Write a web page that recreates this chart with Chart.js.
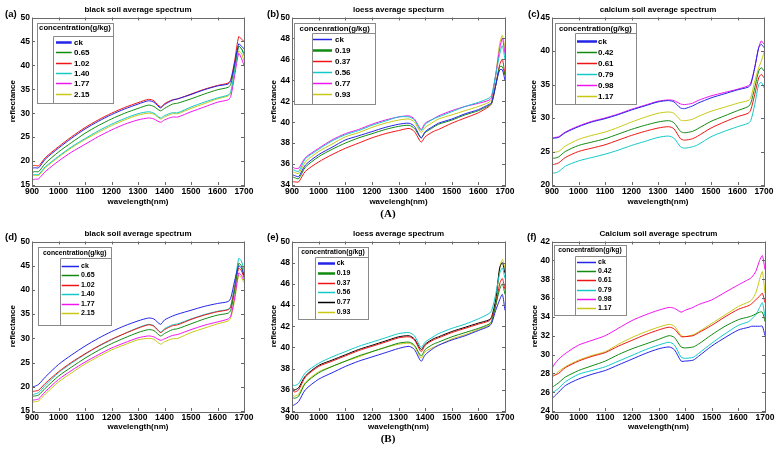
<!DOCTYPE html>
<html><head><meta charset="utf-8">
<script src="https://cdn.jsdelivr.net/npm/chart.js@4/dist/chart.umd.min.js"></script>
<style>
body{margin:0;width:778px;height:453px;background:#fff;position:relative;overflow:hidden}
canvas{position:absolute}
.cap{position:absolute;font:bold 11px "Liberation Serif","DejaVu Serif",serif;transform:translate(-50%,-50%);color:#000}
</style></head><body>
<canvas id="ca" width="259" height="225" style="left:0;top:0"></canvas>
<canvas id="cb" width="260" height="225" style="left:259px;top:0"></canvas>
<canvas id="cc" width="259" height="225" style="left:519px;top:0"></canvas>
<canvas id="cd" width="259" height="228" style="left:0;top:225px"></canvas>
<canvas id="ce" width="260" height="228" style="left:259px;top:225px"></canvas>
<canvas id="cf" width="259" height="228" style="left:519px;top:225px"></canvas>
<div class="cap" style="left:388px;top:213px">(A)</div>
<div class="cap" style="left:388px;top:438px">(B)</div>
<script>
// ---------- data ----------
const wavelengths = [900,910,925,950,1000,1050,1100,1150,1200,1250,1300,1340,1360,1385,1400,1430,1450,1500,1550,1600,1640,1650,1665,1680,1690,1700];
const xTickValues = [900,1000,1100,1200,1300,1400,1500,1600,1700];
const yTicksBlack = [15,20,25,30,35,40,45,50];
const yTicksLoess = [34,36,38,40,42,44,46,48,50];
const yTicksCalcA = [20,25,30,35,40,45];
const yTicksCalcB = [24,26,28,30,32,34,36,38,40,42];

const labelsBlack = ['ck','0.65','1.02','1.40','1.77','2.15'];
const labelsLoess = ['ck','0.19','0.37','0.56','0.77','0.93'];
const labelsCalc  = ['ck','0.42','0.61','0.79','0.98','1.17'];

// (a) black soil (A)
const a_ck  = [18.5,18.6,18.6,20.4,22.7,24.8,26.7,28.3,29.7,30.9,31.9,32.6,32.3,31.1,31.8,32.7,33,33.9,34.9,35.7,36.1,36.8,40.5,44.5,44,43.5];
const a_065 = [17.6,17.8,17.8,19.5,21.9,23.9,25.8,27.4,28.8,30,31,31.7,31.4,30.5,31,31.9,32.1,33,34,34.9,35.4,36,40,44,43.5,42.5];
const a_102 = [19,19.1,19,20.7,23,25.1,27,28.6,30,31.2,32.2,32.9,32.6,31.3,32,32.8,33,34,35,35.8,36.3,37,41,46,45.5,45];
const a_140 = [17,17.2,17.2,18.8,21,23,24.7,26.3,27.7,28.9,29.9,30.3,30,29,29.5,30.1,30.1,31.3,32.3,33.2,33.8,34.5,39,44,43.5,42];
const a_177 = [16,16.2,16.3,17.8,20,21.9,23.5,25.1,26.5,27.7,28.6,29,28.8,28.1,28.6,29.2,29.2,30.3,31.3,32.3,32.8,33.5,38,42.5,41.5,40];
const a_215 = [16.9,17,17,18.6,20.8,22.8,24.5,26,27.4,28.6,29.6,30,29.8,28.8,29.2,29.9,29.9,31,32,33,33.6,34.2,38.5,43,42.5,41];
// (b) loess (A)
const b_ck  = [35,34.9,34.8,35.9,36.9,37.6,38.3,38.7,39.1,39.5,39.8,39.9,39.6,38.5,39.1,39.6,39.9,40.3,40.8,41.2,41.7,41.9,43.5,45,45,44];
const b_019 = [34.8,34.7,34.6,35.7,36.7,37.4,38,38.5,38.9,39.3,39.6,39.7,39.4,38.5,39,39.5,39.8,40.2,40.7,41.1,41.6,41.8,43.5,45.3,45.3,44.5];
const b_037 = [34.3,34.3,34.3,35.3,36.2,36.9,37.5,38,38.5,38.9,39.2,39.4,39.1,38.1,38.6,39.1,39.3,39.9,40.4,40.9,41.5,41.8,43.5,45.5,46,44.5];
const b_056 = [35.5,35.4,35.3,36.5,37.4,38.2,38.8,39.2,39.7,40.1,40.5,40.5,40.2,39.2,39.8,40.3,40.5,41,41.5,41.9,42.3,42.6,44.5,46.5,47.3,46];
const b_077 = [35.8,35.6,35.6,36.6,37.5,38.3,38.9,39.3,39.8,40.2,40.5,40.6,40.3,39.3,39.9,40.3,40.6,41.1,41.5,41.8,42.1,42.4,44.5,47,48,46.5];
const b_093 = [35.3,35.2,35.1,36.2,37.2,37.9,38.6,39,39.5,39.9,40.2,40.3,40,39,39.5,40,40.3,40.7,41.1,41.5,41.9,42.2,44.5,47.5,48.3,47];
// (c) calcium soil (A)
const c_ck  = [26.9,27,27.1,27.8,28.7,29.4,29.9,30.5,31.2,31.8,32.4,32.6,32.4,31.5,31.4,31.8,32.2,33,33.6,34.2,34.6,35,37.5,40.5,41,40.5];
const c_042 = [24,24,24.2,25,25.9,26.4,26.9,27.6,28.3,28.9,29.4,29.6,29.3,28,27.8,28,28.4,29.5,30.3,31.1,31.7,32.2,34.5,37,37.5,37];
const c_061 = [23,23.1,23.3,24.1,25,25.5,26,26.7,27.4,28,28.5,28.7,28.4,26.9,26.7,26.9,27.3,28.5,29.4,30.2,30.7,31.2,33.5,36,36.5,36];
const c_079 = [21.8,21.8,22,22.8,23.6,24.1,24.6,25.2,25.9,26.5,27.1,27.3,27,25.7,25.5,25.7,26,27.2,28,28.7,29.2,29.6,32,35,35.3,34.5];
const c_098 = [27,27.1,27.2,27.9,28.8,29.5,30,30.6,31.3,31.9,32.5,32.7,32.6,32.1,32,32.2,32.6,33.3,33.8,34.3,34.8,35.2,37.5,40.5,41.5,41];
const c_117 = [24.8,24.9,25,25.8,26.8,27.4,27.9,28.6,29.4,30.1,30.7,30.9,30.7,29.7,29.6,29.8,30.2,31,31.6,32.2,32.6,33,35.5,37.5,38.5,39.8];
// (d) black soil (B)
const d_ck  = [20,20.1,20.5,22,24.6,26.6,28.4,30,31.4,32.6,33.6,34.2,34,32.9,33.8,34.6,35,35.8,36.6,37.2,37.6,38.3,42,45,44.5,43];
const d_065 = [18,18.1,18.3,19.7,22.2,24.1,25.9,27.5,28.9,30.1,31.2,31.8,31.6,30.5,31,31.8,32,33,34,34.8,35.2,35.8,40,45.5,45,43];
const d_102 = [19,19.1,19.3,20.7,23.1,25.1,26.8,28.4,29.8,31,32.1,32.8,32.5,31.2,31.8,32.6,32.8,33.9,34.8,35.5,35.9,36.5,40.5,44.5,44,42.5];
const d_140 = [18.3,18.5,18.8,20.3,22.9,24.9,26.7,28.3,29.7,31,32.2,32.9,32.6,31.3,32,32.8,33,34,34.9,35.6,36,36.7,41,46.5,46,44];
const d_177 = [17.2,17.3,17.5,19,21.5,23.4,25.1,26.6,28,29.1,30.1,30.5,30.3,29.6,29.9,30.6,30.8,31.8,32.7,33.4,34,34.6,38.5,43.5,43,42];
const d_215 = [16.8,16.9,17.1,18.5,21,22.9,24.7,26.2,27.6,28.7,29.7,30,29.8,28.8,29.3,29.9,30,31.2,32.1,33,33.6,34.2,38,43,42.5,41.5];
// (e) loess (B)
const e_ck  = [34.5,34.6,34.9,36,37,37.6,38.2,38.7,39.1,39.5,39.9,40.1,39.8,38.7,39.3,39.9,40.2,40.7,41.1,41.6,42,42.3,43.5,44.5,45,43.5];
const e_019 = [35.3,35.2,35.4,36.6,37.6,38.2,38.7,39.2,39.6,40,40.4,40.5,40.2,39.2,39.8,40.3,40.5,41,41.4,41.8,42.2,42.5,44,45.5,46,45];
const e_037 = [36,35.8,36,37.2,38.2,38.7,39.2,39.7,40.1,40.5,40.9,41,40.7,39.6,40.2,40.7,40.9,41.4,41.8,42.2,42.5,42.8,44,46,46.5,45.5];
const e_056 = [36.5,36.4,36.6,37.6,38.5,39.1,39.6,40.1,40.5,40.9,41.3,41.4,41.1,40,40.5,41,41.3,41.8,42.2,42.7,43.2,43.5,45,47,47.5,46.5];
const e_077 = [36.2,36,36.2,37.3,38.3,38.8,39.3,39.8,40.2,40.6,41,41.1,40.8,39.8,40.3,40.8,41,41.5,41.9,42.3,42.6,42.9,44.5,47.5,48,47];
const e_093 = [35.5,35.4,35.6,36.7,37.7,38.2,38.7,39.1,39.6,40,40.3,40.4,40.1,39,39.6,40,40.2,40.8,41.2,41.7,42.1,42.4,44,47.5,48.3,47.5];
// (f) calcium soil (B)
const f_ck  = [25.3,25.6,26,26.7,27.4,27.9,28.3,28.9,29.5,30.1,30.6,30.8,30.5,29.3,29.3,29.4,29.8,30.9,31.8,32.6,32.9,33,33,33,33,32];
const f_042 = [26.5,26.7,27,27.6,28.3,28.8,29.3,30,30.6,31.1,31.6,32,31.8,30.8,30.7,30.8,31.1,32.1,33,33.7,34,34.1,34.3,34.5,34.5,33.5];
const f_061 = [27.8,27.8,28,28.6,29.3,29.8,30.2,30.9,31.5,32.1,32.6,32.9,32.7,31.9,31.9,32,32.3,33.1,34,34.8,35.2,35.4,35.8,36.2,36.5,35.5];
const f_079 = [26,26.1,26.4,27.1,27.9,28.3,28.7,29.3,29.9,30.5,31,31.3,31,29.7,29.6,29.7,30.1,31.2,32.2,33.1,33.5,33.8,34.2,35,35.5,34];
const f_098 = [28.5,29,29.5,30.1,31,31.5,32,32.8,33.6,34.2,34.7,35,34.9,34.5,34.7,35,35.3,35.8,36.6,37.4,38,38.2,38.8,40,40.5,39];
const f_117 = [27.5,27.8,28.2,28.7,29.4,29.9,30.3,31.1,31.8,32.4,32.9,33.2,33,32,31.9,32.1,32.4,33.3,34.2,35.1,35.6,35.8,36.5,38,38.8,36.5];

// ---------- styling ----------
const BLUE='#2424e6', GREEN='#128a12', RED='#f01414', CYAN='#14c8c8', MAG='#f014f0', YEL='#c8c814', BLK='#000000';
const FONT = '"Liberation Sans", Arial, sans-serif';
const colorsStd = [BLUE, GREEN, RED, CYAN, MAG, YEL];
const colorsE   = [BLUE, GREEN, RED, CYAN, BLK, YEL];

const panels = [
  {id:'ca', tag:'(a)', tagX:5, tagY:14, title:'black soil average spectrum', xTitle:'wavelength(nm)', legTitle:'concentration(g/kg)',
   labels:labelsBlack, colors:colorsStd, series:[a_ck,a_065,a_102,a_140,a_177,a_215], yMin:15, yMax:50, yTicks:yTicksBlack,
   pad:{left:0, top:17.5, right:15, bottom:12}, yw:32, ytx:13, xtPad:6.5, thick:[0],
   leg:{x:4.7,y:5.5,w:76,h:80,ix:21,iy:18.5,ty:10.8,ey:24.2,step:10.4,s0:24,s1:39.7,tx:42,tf:7.7,ef:8}},
  {id:'cb', tag:'(b)', tagX:8, tagY:14, title:'loess average specturm', xTitle:'wavelengh(nm)', legTitle:'concenration(g/kg)',
   labels:labelsLoess, colors:colorsStd, series:[b_ck,b_019,b_037,b_056,b_077,b_093], yMin:34, yMax:50, yTicks:yTicksLoess,
   pad:{left:0, top:17.5, right:14, bottom:12}, yw:33, ytx:15, xtPad:6.5, thick:[1],
   leg:{x:2.3,y:5.2,w:81.4,h:81.3,ix:19.7,iy:15.8,ty:11.8,ey:21.8,step:11,s0:21,s1:40,tx:43,tf:7.8,ef:8}},
  {id:'cc', tag:'(c)', tagX:9, tagY:14, title:'calcium soil average spectrum', xTitle:'wavelength(nm)', legTitle:'concentration(g/kg)',
   labels:labelsCalc, colors:colorsStd, series:[c_ck,c_042,c_061,c_079,c_098,c_117], yMin:20, yMax:45, yTicks:yTicksCalcA,
   pad:{left:0, top:17.5, right:14, bottom:12}, yw:33, ytx:15, xtPad:6.5, thick:[0],
   leg:{x:3,y:5.2,w:80.7,h:80.6,ix:23,iy:15.8,ty:11.8,ey:23.2,step:11,s0:25,s1:45,tx:46,tf:7.8,ef:8}},
  {id:'cd', tag:'(d)', tagX:5, tagY:12, title:'black soil average spectrum', xTitle:'wavelength(nm)', legTitle:'concentration(g/kg)',
   labels:labelsBlack, colors:colorsStd, series:[d_ck,d_065,d_102,d_140,d_177,d_215], yMin:15, yMax:50, yTicks:yTicksBlack,
   pad:{left:0, top:16.5, right:15, bottom:14}, yw:32, ytx:12.7, xtPad:7, thick:[],
   leg:{x:6.3,y:5.2,w:73.4,h:77.6,ix:28,iy:16.8,ty:11.8,ey:24.2,step:9.5,s0:29.7,s1:47,tx:49,tf:6.8,ef:7}},
  {id:'ce', tag:'(e)', tagX:8, tagY:12, title:'loess average spectrum', xTitle:'wavelength(nm)', legTitle:'concentration(g/kg)',
   labels:labelsLoess, colors:colorsE, series:[e_ck,e_019,e_037,e_056,e_077,e_093], yMin:34, yMax:50, yTicks:yTicksLoess,
   pad:{left:0, top:16.5, right:14, bottom:14}, yw:33, ytx:15, xtPad:7, thick:[0,1],
   leg:{x:6.3,y:5.2,w:70,h:71.6,ix:23,iy:15.2,ty:10.2,ey:21.2,step:9.9,s0:26,s1:43,tx:44.7,tf:6.8,ef:7}},
  {id:'cf', tag:'(f)', tagX:8, tagY:12, title:'Calcium soil average spectrum', xTitle:'wavelength(nm)', legTitle:'concentration(g/kg)',
   labels:labelsCalc, colors:colorsStd, series:[f_ck,f_042,f_061,f_079,f_098,f_117], yMin:24, yMax:42, yTicks:yTicksCalcB,
   pad:{left:0, top:16.5, right:13, bottom:14}, yw:33, ytx:16, xtPad:7, thick:[],
   leg:{x:2,y:3.5,w:72,h:70,ix:23,iy:14.5,ty:8.5,ey:20.5,step:9.2,s0:25,s1:44,tx:46,tf:6.8,ef:7}}
];

const decor = {
  id:'decor',
  afterDraw(chart, args, o) {
    const ctx = chart.ctx, ca = chart.chartArea, xs = chart.scales.x, ys = chart.scales.y;
    const p = o.panel, L = p.leg;
    ctx.save();
    // inward tick marks
    ctx.strokeStyle = '#666'; ctx.lineWidth = 1;
    ctx.beginPath();
    xs.ticks.forEach(t => {
      const px = Math.round(xs.getPixelForValue(t.value)) + 0.5;
      ctx.moveTo(px, ca.bottom); ctx.lineTo(px, ca.bottom - 3);
      ctx.moveTo(px, ca.top); ctx.lineTo(px, ca.top + 3);
    });
    ys.ticks.forEach(t => {
      const py = Math.round(ys.getPixelForValue(t.value)) + 0.5;
      ctx.moveTo(ca.left, py); ctx.lineTo(ca.left + 3, py);
      ctx.moveTo(ca.right, py); ctx.lineTo(ca.right - 3, py);
    });
    ctx.stroke();
    // box
    ctx.strokeStyle = '#6a6a6a';
    ctx.strokeRect(Math.round(ca.left) + 0.5, Math.round(ca.top) + 0.5, Math.round(ca.right - ca.left), Math.round(ca.bottom - ca.top));
    // legend
    const bx = Math.round(ca.left + L.x), by = Math.round(ca.top + L.y);
    ctx.fillStyle = '#fff'; ctx.fillRect(bx, by, L.w, L.h);
    ctx.strokeStyle = '#8a8a8a';
    ctx.strokeRect(bx + 0.5, by + 0.5, Math.round(L.w), Math.round(L.h));
    const ix = Math.round(ca.left + L.ix) + 0.5, iy = Math.round(ca.top + L.iy) + 0.5;
    ctx.beginPath();
    ctx.moveTo(ix, by + Math.round(L.h)); ctx.lineTo(ix, iy); ctx.lineTo(bx + Math.round(L.w), iy);
    ctx.stroke();
    ctx.fillStyle = '#000';
    ctx.textBaseline = 'middle';
    ctx.textAlign = 'center';
    ctx.font = 'bold ' + L.tf + 'px ' + FONT;
    ctx.fillText(p.legTitle, bx + L.w / 2, ca.top + L.ty);
    ctx.textAlign = 'left';
    ctx.font = 'bold ' + L.ef + 'px ' + FONT;
    chart.data.datasets.forEach((ds, i) => {
      const y = Math.round(ca.top + L.ey + i * L.step) + 0.5;
      ctx.strokeStyle = ds.borderColor;
      ctx.lineWidth = p.thick.includes(i) ? 2.5 : 1.5;
      ctx.beginPath(); ctx.moveTo(ca.left + L.s0, y); ctx.lineTo(ca.left + L.s1, y); ctx.stroke();
      ctx.fillStyle = '#000';
      ctx.fillText(ds.label, ca.left + L.tx, y);
    });
    // title + tag
    ctx.textAlign = 'center';
    ctx.font = 'bold 8px ' + FONT;
    ctx.fillText(p.title, (ca.left + ca.right) / 2, ca.top - 7.5);
    ctx.textAlign = 'left';
    ctx.font = 'bold 9.5px ' + FONT;
    ctx.fillText(p.tag, p.tagX, p.tagY);
    ctx.restore();
  }
};

panels.forEach(p => {
  const datasets = p.series.map((vals, i) => ({
    label: p.labels[i],
    data: wavelengths.map((w, k) => ({x: w, y: vals[k]})),
    borderColor: p.colors[i],
    borderWidth: 1,
    pointRadius: 0,
    tension: 0.25,
    fill: false
  }));
  new Chart(document.getElementById(p.id), {
    type: 'line',
    data: {datasets},
    options: {
      responsive: false, animation: false, events: [],
      layout: {padding: p.pad},
      plugins: {legend: {display: false}, tooltip: {enabled: false}, title: {display: false}, decor: {panel: p}},
      scales: {
        x: {
          type: 'linear', min: 900, max: 1700,
          afterBuildTicks: s => { s.ticks = xTickValues.map(v => ({value: v})); },
          afterFit: s => { s.height = 28; },
          grid: {display: false, drawTicks: false}, border: {display: false},
          ticks: {padding: 2, color: '#000', maxRotation: 0, autoSkip: false, callback: v => String(v), font: {family: FONT, size: 8.5, weight: 'bold'}},
          title: {display: true, text: p.xTitle, color: '#000', font: {family: FONT, size: 8, weight: 'bold'}, padding: {top: 0, bottom: p.xtPad}}
        },
        y: {
          type: 'linear', min: p.yMin, max: p.yMax,
          afterBuildTicks: s => { s.ticks = p.yTicks.map(v => ({value: v})); },
          afterFit: s => { s.width = p.yw; },
          grid: {display: false, drawTicks: false}, border: {display: false},
          ticks: {padding: 2, color: '#000', autoSkip: false, callback: v => String(v), font: {family: FONT, size: 8.5, weight: 'bold'}},
          title: {display: true, text: 'reflectance', color: '#000', font: {family: FONT, size: 8, weight: 'bold'}, padding: {top: p.ytx - 4.8, bottom: 0}}
        }
      }
    },
    plugins: [decor]
  });
});
</script>
</body></html>
